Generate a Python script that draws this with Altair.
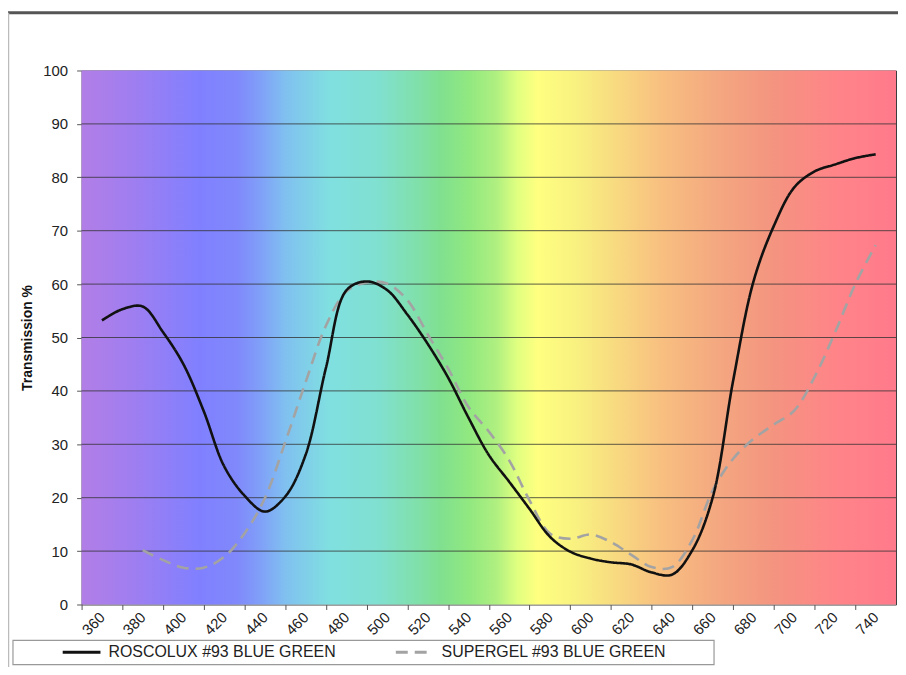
import altair as alt
import pandas as pd

# ---------------- data ----------------
wavelengths = [360, 370, 380, 390, 400, 410, 420, 430, 440, 450, 460, 470, 480,
               490, 500, 510, 520, 530, 540, 550, 560, 570, 580, 590, 600, 610,
               620, 630, 640, 650, 660, 670, 680, 690, 700, 710, 720, 730, 740]
roscolux = [53.2, 55.3, 55.8, 51.0, 45.0, 36.2, 25.9, 20.4, 17.4, 20.2, 28.0, 44.3, 58.8,
            60.5, 58.9, 54.3, 48.8, 42.5, 35.0, 28.0, 23.0, 17.9, 12.7, 9.9, 8.6, 7.9,
            7.5, 6.0, 5.6, 10.2, 20.1, 41.9, 60.5, 70.9, 78.1, 81.1, 82.4, 83.6, 84.3]

supergel_wavelengths = [380, 390, 400, 410, 420, 430, 440, 450, 460, 470, 480, 490,
                        500, 510, 520, 530, 540, 550, 560, 570, 580, 590, 600, 610,
                        620, 630, 640, 650, 660, 670, 680, 690, 700, 710, 720, 730, 740]
supergel = [10.2, 8.3, 6.9, 6.9, 8.9, 13.3, 19.9, 30.4, 41.6, 52.2, 58.6, 60.3,
            60.1, 57.0, 50.6, 44.2, 37.0, 32.4, 27.0, 19.5, 13.3, 12.3, 13.1, 11.7,
            9.3, 7.0, 7.0, 12.1, 21.4, 27.3, 31.0, 33.7, 36.3, 42.6, 50.9, 60.0, 67.3]

series_names = ["ROSCOLUX #93 BLUE GREEN", "SUPERGEL #93 BLUE GREEN"]
series_colors = ["#111111", "#a3a3a3"]

x_label_values = [360, 380, 400, 420, 440, 460, 480, 500, 520, 540,
                  560, 580, 600, 620, 640, 660, 680, 700, 720, 740]
x_domain = [350, 750]
y_tick_values = [0, 10, 20, 30, 40, 50, 60, 70, 80, 90, 100]
grid_values = [10, 20, 30, 40, 50, 60, 70, 80, 90]
y_domain = [0, 100]

spectrum_offsets = [0.0, 0.06, 0.145, 0.19, 0.22, 0.25, 0.305, 0.365, 0.415, 0.44,
                    0.475, 0.51, 0.535, 0.56, 0.61, 0.66, 0.71, 0.78, 0.85, 0.925, 1.0]
spectrum_colors = ["#b27ee6", "#a07ef0", "#8080ff", "#8088fb", "#80a0f8", "#80c0f0",
                   "#80e0e0", "#80e0d0", "#80e0a8", "#80e090", "#90e880", "#b0f080",
                   "#e0ff80", "#ffff80", "#f8f080", "#f8d880", "#f8c080", "#f4a880",
                   "#f49480", "#ff8488", "#ff7a8c"]

# ---------------- tables ----------------
rows = []
for w, v in zip(supergel_wavelengths, supergel):
    rows.append({"wavelength": w, "value": v, "series": series_names[1]})
for w, v in zip(wavelengths, roscolux):
    rows.append({"wavelength": w, "value": v, "series": series_names[0]})
lines_df = pd.DataFrame(rows)

bg_df = pd.DataFrame({"x0": [x_domain[0]], "x1": [x_domain[1]],
                      "y0": [y_domain[0]], "y1": [y_domain[1]]})
grid_df = pd.DataFrame({"v": grid_values})
frame_df = pd.DataFrame({"k": [0]})

# ---------------- layout ----------------
W, H = 819, 537
FONT = "Liberation Sans"
half_band = W / len(x_label_values) / 2

x_scale = alt.Scale(domain=x_domain, nice=False, zero=False)
y_scale = alt.Scale(domain=y_domain, nice=False, zero=True)

x_axis = alt.Axis(values=x_label_values, title="", labelAngle=315, labelAlign="right",
                  labelBaseline="middle", labelFont=FONT, labelFontSize=15,
                  labelColor="#222222", labelPadding=5, tickSize=5, tickColor="#555555",
                  tickOffset=-half_band, labelOffset=half_band, domain=False, grid=False,
                  labelOverlap=False)
y_axis = alt.Axis(values=y_tick_values, title="Transmission %", titleFont=FONT,
                  titleFontSize=14, titleFontWeight="bold", titleColor="#111111",
                  titlePadding=8, labelFont=FONT, labelFontSize=15, labelColor="#222222",
                  labelPadding=9, tickSize=5, tickColor="#555555", domain=False, grid=False)

gradient = alt.LinearGradient(
    gradient="linear", x1=0, x2=1, y1=0, y2=0,
    stops=[alt.GradientStop(offset=o, color=c) for o, c in zip(spectrum_offsets, spectrum_colors)],
)

bg = alt.Chart(bg_df).mark_rect(color=gradient).encode(
    x=alt.X("x0:Q", scale=x_scale, axis=x_axis),
    x2="x1:Q",
    y=alt.Y("y0:Q", scale=y_scale, axis=y_axis),
    y2="y1:Q",
)

grid = alt.Chart(grid_df).mark_rule(color="#333333", strokeWidth=1, opacity=0.8).encode(
    y=alt.Y("v:Q", scale=y_scale, axis=y_axis)
)

legend = alt.Legend(
    title="", orient="none", legendX=-8, legendY=577, direction="horizontal",
    symbolType="M-3.8,0H3.8", symbolSize=100, symbolStrokeWidth=3,
    labelFont=FONT, labelFontSize=16, labelColor="#222222", labelOffset=19,
    labelLimit=600, columnPadding=54, padding=0,
)

lines = alt.Chart(lines_df).mark_line(strokeWidth=2.6, interpolate="catmull-rom").encode(
    x=alt.X("wavelength:Q", scale=x_scale, axis=x_axis),
    y=alt.Y("value:Q", scale=y_scale, axis=y_axis),
    color=alt.Color("series:N", scale=alt.Scale(domain=series_names, range=series_colors),
                    legend=legend),
    strokeDash=alt.StrokeDash("series:N",
                              scale=alt.Scale(domain=series_names, range=[[1, 0], [12, 7]]),
                              legend=legend),
)

# decorative chart-area frame and legend box
frame_top = alt.Chart(frame_df).mark_rule(color="#555555", strokeWidth=3).encode(
    x=alt.value(-74), x2=alt.value(W + 10), y=alt.value(-58)
)
frame_left = alt.Chart(frame_df).mark_rule(color="#bbbbbb", strokeWidth=1.5).encode(
    x=alt.value(-73.5), y=alt.value(-58), y2=alt.value(H + 80)
)
legend_box = alt.Chart(frame_df).mark_rect(fill="white", stroke="#999999", strokeWidth=1.2).encode(
    x=alt.value(-69), x2=alt.value(636), y=alt.value(573), y2=alt.value(597.5)
)

chart = alt.layer(bg, grid, lines, frame_top, frame_left, legend_box).properties(
    width=W, height=H,
    padding={"left": 74, "top": 61, "right": 2, "bottom": 61},
    autosize=alt.AutoSizeParams(type="none"),
    background="white",
).configure_view(stroke="#3a3a3a", strokeWidth=1)

chart.save("out.html", embed_options={"renderer": "svg", "actions": False})
